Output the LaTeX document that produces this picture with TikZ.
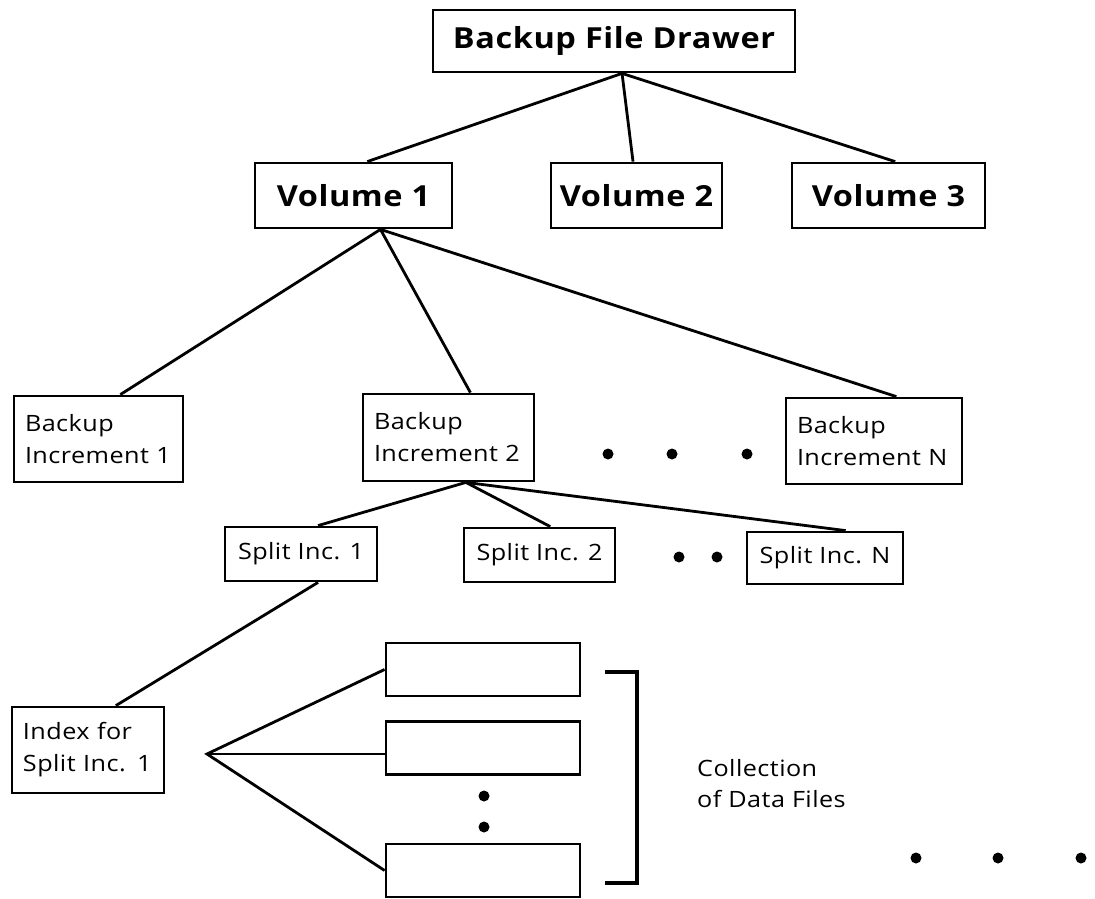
\documentclass[tikz,border=0pt]{standalone}
\usepackage{fontspec}
\setmainfont{Open Sans}[FakeStretch=1.12, LetterSpace=2]
\usetikzlibrary{calc}
\begin{document}
\begin{tikzpicture}[x=1pt,y=-1pt,
  box/.style={draw, line width=2.8pt, inner sep=0pt, align=center},
  bbox/.style={box, font=\fontsize{29}{34}\selectfont\bfseries},
  tbox/.style={box, font=\fontsize{22.5}{32}\selectfont, align=left, inner xsep=11pt},
  sbox/.style={box, font=\fontsize{22.5}{32}\selectfont},
  conn/.style={line width=2.8pt},
  brk/.style={line width=4.4pt},
  lbl/.style={font=\fontsize{22.5}{31}\selectfont, align=left, inner sep=0pt}]
\useasboundingbox (0,0) rectangle (1095,899);

% nodes
\node[bbox, minimum width=362pt, minimum height=62pt] (top) at (614,41) {Backup File Drawer};
\node[bbox, minimum width=197pt, minimum height=65pt] (v1) at (353.5,195.5) {Volume 1};
\node[bbox, minimum width=171pt, minimum height=65pt] (v2) at (636.5,195.5) {Volume 2};
\node[bbox, minimum width=193pt, minimum height=65pt] (v3) at (888.5,195.5) {Volume 3};

\node[tbox, text width=147pt, minimum height=86pt] (bi1) at (98.5,439) {Backup\\Increment 1};
\node[tbox, text width=149pt, minimum height=87pt] (bi2) at (448.5,437.5) {Backup\\Increment 2};
\node[tbox, text width=154pt, minimum height=86pt] (biN) at (874,441) {Backup\\Increment N};

\node[sbox, minimum width=152pt, minimum height=54pt] (s1) at (301,554) {Split Inc. 1};
\node[sbox, minimum width=151pt, minimum height=54pt] (s2) at (539.5,555) {Split Inc. 2};
\node[sbox, minimum width=156pt, minimum height=52pt] (sN) at (825,558) {Split Inc. N};

\node[tbox, text width=130pt, minimum height=86pt] (idx) at (88,750) {Index for\\Split Inc. 1};

\node[box, minimum width=194pt, minimum height=53pt] (d1) at (483,669.5) {};
\node[box, minimum width=194pt, minimum height=53pt] (d2) at (483,748) {};
\node[box, minimum width=194pt, minimum height=53pt] (d3) at (483,870.5) {};

\node[lbl, anchor=west] (coll) at (697,784) {Collection\\of Data Files};

% connectors
\draw[conn] ($(top.south west)!0.522!(top.south east)$) -- ($(v1.north west)!0.569!(v1.north east)$);
\draw[conn] ($(top.south west)!0.522!(top.south east)$) -- ($(v2.north west)!0.48!(v2.north east)$);
\draw[conn] ($(top.south west)!0.522!(top.south east)$) -- ($(v3.north west)!0.534!(v3.north east)$);

\draw[conn] ($(v1.south west)!0.635!(v1.south east)$) -- ($(bi1.north west)!0.627!(bi1.north east)$);
\draw[conn] ($(v1.south west)!0.635!(v1.south east)$) -- ($(bi2.north west)!0.626!(bi2.north east)$);
\draw[conn] ($(v1.south west)!0.635!(v1.south east)$) -- ($(biN.north west)!0.625!(biN.north east)$);

\draw[conn] ($(bi2.south west)!0.60!(bi2.south east)$) -- ($(s1.north west)!0.61!(s1.north east)$);
\draw[conn] ($(bi2.south west)!0.60!(bi2.south east)$) -- ($(s2.north west)!0.57!(s2.north east)$);
\draw[conn] ($(bi2.south west)!0.60!(bi2.south east)$) -- ($(sN.north west)!0.63!(sN.north east)$);

\draw[conn] ($(s1.south west)!0.61!(s1.south east)$) -- ($(idx.north west)!0.68!(idx.north east)$);

\coordinate (apex) at (207,754);
\draw[conn, line join=miter] (d1.west) -- (apex) -- (d3.west);
\draw[conn] (apex) -- ($(d2.west)+(0,6)$);

% bracket
\draw[brk] (605,672) -- (637,672) -- (637,883) -- (605,883);

% dots
\foreach \x in {608,672,747} \fill (\x,454) circle (5.5);
\foreach \x in {679,717} \fill (\x,557) circle (5.5);
\foreach \x in {484} {\fill (\x,796) circle (5.5); \fill (\x,827) circle (5.5);}
\foreach \x in {916,998,1081} \fill (\x,858) circle (5.5);
\end{tikzpicture}
\end{document}
